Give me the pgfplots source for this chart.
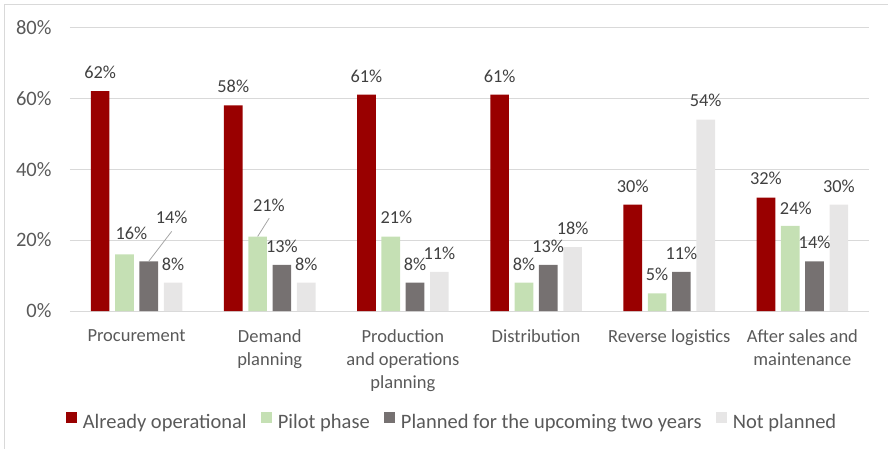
\documentclass[border=0pt]{standalone}
\usepackage{pgfplots}
\pgfplotsset{compat=1.18}
\usepackage{pgfplotstable}
\usepackage{fontspec}
\setmainfont{Carlito}
\definecolor{cRed}{HTML}{990000}
\definecolor{cGreen}{HTML}{C5E0B4}
\definecolor{cDark}{HTML}{767171}
\definecolor{cLight}{HTML}{E7E6E6}
\definecolor{cGrid}{HTML}{D9D9D9}
\definecolor{cText}{HTML}{595959}
\definecolor{cLabel}{HTML}{404040}
\definecolor{cLeader}{HTML}{A6A6A6}
\pgfplotsset{sqlegend/.style={legend image code/.code={\fill[##1] (0pt,-1pt) rectangle (11.7pt,10.7pt);}}}

% x = category index, y = percent, dx/dy = label offset (pt) from bar top
\pgfplotstableread{
x y dx dy
0 62 0 18.7
1 58 0 18.7
2 61 0 18.7
3 61 0 18.7
4 30 0 18.7
5 32 0 18.7
}\opA
\pgfplotstableread{
x y dx dy
0 16 7 21
1 21 11.3 31.2
2 21 5.7 19.3
3 8 0 18.7
4 5 0 18.7
5 24 5.5 17.4
}\opB
\pgfplotstableread{
x y dx dy
0 14 23 43.7
1 13 0 18.7
2 8 0 18.7
3 13 0 18.7
4 11 0 18.7
5 14 0 18.7
}\opC
\pgfplotstableread{
x y dx dy
0 8 0 18.7
1 8 0 18.7
2 11 0 18.7
3 18 0 18.7
4 54 0 18.7
5 30 0 18.7
}\opD

\begin{document}
\begin{tikzpicture}[font=\fontsize{18.5}{23}\selectfont]
\useasboundingbox (-70pt,-137pt) rectangle (818pt,311pt);
\begin{axis}[
  at={(0,0)}, anchor=south west,
  scale only axis, width=799pt, height=283.7pt,
  xmin=-0.5, xmax=5.5, ymin=0, ymax=80,
  ytick={0,20,40,60,80},
  yticklabel={\pgfmathprintnumber{\tick}\%},
  xtick={0,1,2,3,4,5},
  xticklabels={Procurement,{Demand\\planning},{Production\\and operations\\planning},Distribution,Reverse logistics,{After sales and\\maintenance}},
  ybar, bar width=0.14,
  axis line style={draw=none},
  major tick length=0pt,
  ymajorgrids, grid style={draw=cGrid, line width=1pt},
  tick label style={text=cText},
  /pgf/number format/assume math mode=true,
  yticklabel style={font=\fontsize{20.5}{24}\selectfont, inner sep=0pt, anchor=east, xshift=-18.3pt},
  xticklabel style={align=center, anchor=north, inner sep=0pt, yshift=-18pt},
  nodes near coords={\pgfmathprintnumber{\pgfplotspointmeta}\%},
  point meta=y,
  visualization depends on={\thisrow{dx} \as \ldx},
  visualization depends on={\thisrow{dy} \as \ldy},
  every node near coord/.append style={anchor=center, xshift=\ldx pt, yshift=\ldy pt, text=cLabel, font=\fontsize{18.3}{22}\selectfont, /pgf/number format/assume math mode=true},
  legend style={font=\fontsize{20.5}{24}\selectfont, text=cText, draw=none, fill=none,
    at={(axis description cs:0.4768,-0.3877)}, anchor=center, legend columns=4,
    nodes={inner sep=0pt},
    /tikz/every even column/.append style={column sep=14pt},
    /tikz/every odd column/.append style={column sep=5.5pt}},
]
\addplot[fill=cRed, draw=none, bar shift=-0.274, sqlegend] table[x=x,y=y] {\opA};
\addlegendentry{Already operational}
\addplot[fill=cGreen, draw=none, bar shift=-0.091, sqlegend] table[x=x,y=y] {\opB};
\addlegendentry{Pilot phase}
\addplot[fill=cDark, draw=none, bar shift=0.091, sqlegend] table[x=x,y=y] {\opC};
\addlegendentry{Planned for the upcoming two years}
\addplot[fill=cLight, draw=none, bar shift=0.274, sqlegend] table[x=x,y=y] {\opD};
\addlegendentry{Not planned}
\draw[cLeader, line width=0.8pt] (axis cs:0.091,14) -- ++(23pt,30pt);
\draw[cLeader, line width=0.8pt] (axis cs:0.909,21) -- ++(11.6pt,18.4pt);
\end{axis}
\draw[cGrid, line width=1pt] (-65pt,-139pt) rectangle (820pt,306pt);
\end{tikzpicture}
\end{document}
